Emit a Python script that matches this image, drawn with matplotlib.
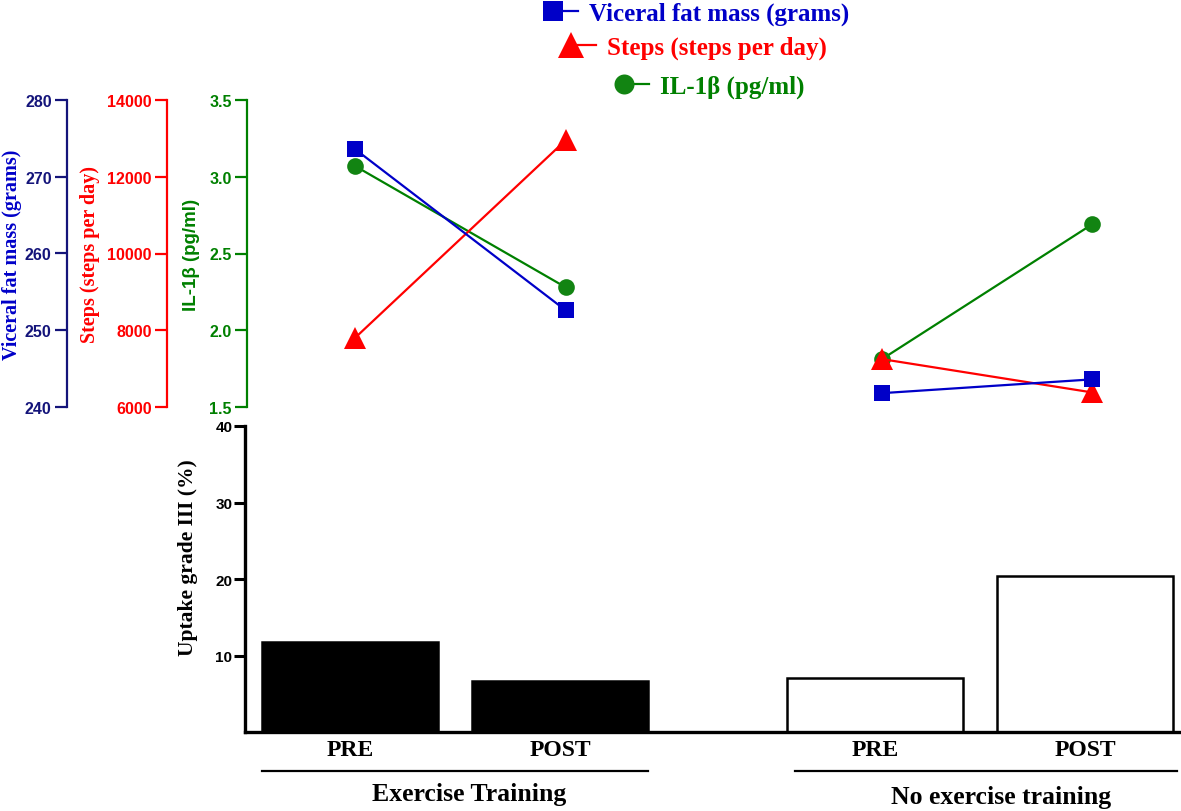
import numpy as np
import matplotlib
matplotlib.use("Agg")
from matplotlib import pyplot as plt
from matplotlib.legend_handler import HandlerLine2D
from matplotlib.lines import Line2D
import matplotlib.transforms as mtransforms

# Data
xpos = [0, 1, 2.5, 3.5]
xlabels = ["PRE", "POST", "PRE", "POST"]
groups = ["Exercise Training", "No exercise training"]

visceralFat = [273.6, 252.6, 241.8, 243.6]      # grams
steps = [7800, 12950, 7250, 6380]                # steps per day
il1b = [3.07, 2.28, 1.81, 2.69]                  # pg/ml
uptake = [11.8, 6.7, 7.1, 20.4]                  # %

SERIF = "Liberation Serif"
SANS = "Liberation Sans"
BLUE_AX = "#14147a"
BLUE = "#0000c8"
RED = "#ff0000"
GREEN = "#008000"
GREEN_M = "#128412"


class LeftMarkerHandler(HandlerLine2D):
    """Legend handle with the marker at the left end of the line."""
    def create_artists(self, *args, **kwargs):
        artists = super().create_artists(*args, **kwargs)
        for a in artists:
            a.set_markevery([0])
        return artists


W, H = 1181, 812
fig = plt.figure(figsize=(W / 100, H / 100), dpi=100)

# ---------------- top panel: three y axes ----------------
topL, topR, topT, topB = 247, 1181, 101, 408
axG = fig.add_axes([topL / W, 1 - topB / H, (topR - topL) / W, (topB - topT) / H])
axR = axG.twinx()
axB = axG.twinx()

pxPerUnit = 210.6
xmin = -(355 - topL) / pxPerUnit
axG.set_xlim(xmin, xmin + (topR - topL) / pxPerUnit)

for ax in (axG, axR, axB):
    ax.patch.set_visible(False)
    for s in ("top", "right", "bottom"):
        ax.spines[s].set_visible(False)
    ax.set_xticks([])

for ax in (axR, axB):
    ax.yaxis.set_label_position("left")
    ax.yaxis.set_ticks_position("left")
    ax.spines["left"].set_visible(True)
axR.spines["left"].set_position(("outward", (topL - 167) * 0.72))
axB.spines["left"].set_position(("outward", (topL - 67) * 0.72))

def styleAxis(ax, color, labelcolor, ticks, fmt, label, lfont, lsize, lx):
    ax.spines["left"].set_color(color)
    ax.spines["left"].set_linewidth(1.6)
    ax.set_ylim(ticks[0], ticks[-1])
    ax.set_yticks(ticks)
    ax.set_yticklabels([fmt.format(t) for t in ticks], fontfamily=SANS,
                       fontweight="bold", fontsize=11.5, color=color)
    ax.tick_params(axis="y", colors=color, length=9, width=1.6, pad=2)
    ax.set_ylabel(label, fontfamily=lfont, fontweight="bold", fontsize=lsize, color=labelcolor)
    ax.yaxis.set_label_coords(lx, 0.5)

styleAxis(axG, GREEN, GREEN, [1.5, 2.0, 2.5, 3.0, 3.5], "{:.1f}",
          "IL-1\u03b2 (pg/ml)", SANS, 13.5, -0.050)
styleAxis(axR, RED, RED, [6000, 8000, 10000, 12000, 14000], "{:d}",
          "Steps (steps per day)", SERIF, 14.5, -0.157)
styleAxis(axB, BLUE_AX, BLUE, [240, 250, 260, 270, 280], "{:d}",
          "Viceral fat mass (grams)", SERIF, 14.5, -0.2405)

segments = [slice(0, 2), slice(2, 4)]
lineB = lineR = lineG = None
for seg in segments:
    lineB, = axB.plot(xpos[seg], visceralFat[seg], color=BLUE, lw=1.6, marker="s",
                      markersize=12, markeredgewidth=0, clip_on=False)
    lineR, = axR.plot(xpos[seg], steps[seg], color=RED, lw=1.6, marker="^",
                      markersize=16, markeredgewidth=0, clip_on=False)
    lineG, = axG.plot(xpos[seg], il1b[seg], color=GREEN, lw=1.6, marker="o",
                      markerfacecolor=GREEN_M, markersize=12, markeredgewidth=0, clip_on=False)

# legend: one centred entry per line
legendEntries = [
    (lineB, "Viceral fat mass (grams)", BLUE, 701, 14),
    (lineR, "Steps (steps per day)", RED, 699, 48),
    (lineG, "IL-1\u03b2 (pg/ml)", GREEN, 714, 87),
]
for handle, text, color, cx, cy in legendEntries:
    leg = fig.legend([handle], [text], loc="center", bbox_to_anchor=(cx / W, 1 - cy / H),
                     frameon=False, handlelength=1.0, handletextpad=0.45, borderpad=0,
                     markerscale=1.2,
                     handler_map={Line2D: LeftMarkerHandler(numpoints=1)},
                     prop={"family": SERIF, "weight": "bold", "size": 18})
    for t in leg.get_texts():
        t.set_color(color)

# ---------------- bottom panel: bars ----------------
botL, botR, botT, botB = 245, 1181, 427, 733
axU = fig.add_axes([botL / W, 1 - botB / H, (botR - botL) / W, (botB - botT) / H])
axU.set_xlim(-0.5, -0.5 + (botR - botL) / 210)
axU.set_ylim(0, 40)

faces = ["black", "black", "white", "white"]
axU.bar(xpos, uptake, width=0.835, color=faces, edgecolor="black", linewidth=1.8, zorder=2)

for s in ("top", "right"):
    axU.spines[s].set_visible(False)
for s in ("left", "bottom"):
    axU.spines[s].set_linewidth(2.4)
axU.set_yticks([10, 20, 30, 40])
axU.set_yticklabels(["10", "20", "30", "40"], fontfamily=SANS, fontweight="bold", fontsize=11)
axU.tick_params(axis="y", length=8, width=2.2, pad=1)
axU.set_xticks(xpos)
axU.set_xticklabels(xlabels, fontfamily=SERIF, fontweight="bold", fontsize=17)
axU.tick_params(axis="x", length=0, pad=5)
axU.set_ylabel("Uptake grade III (%)", fontfamily=SERIF, fontweight="bold", fontsize=15.5)
axU.yaxis.set_label_coords(-0.050, 0.572)

# group brackets under the tick labels
trans = mtransforms.blended_transform_factory(axU.transData, fig.transFigure)
groupSpans = [(-0.42, 1.42), (2.12, 3.94)]
groupCenters = [0.567, 3.1]
groupY = [795, 798]
for (x0, x1), xc, gy, name in zip(groupSpans, groupCenters, groupY, groups):
    fig.add_artist(Line2D([x0, x1], [1 - 772 / H] * 2, transform=trans, color="black", lw=1.6))
    fig.text(xc, 1 - gy / H, name, transform=trans, ha="center", va="center",
             fontfamily=SERIF, fontweight="bold", fontsize=18.5)

fig.savefig("out.png", dpi=100)
